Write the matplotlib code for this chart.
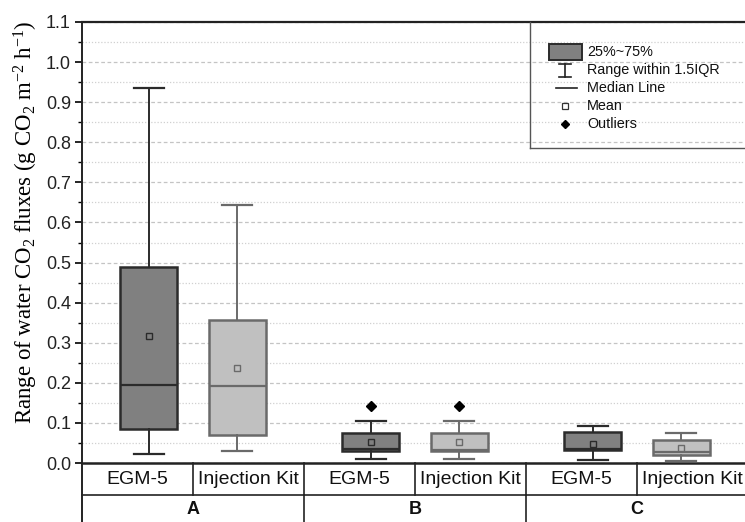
import matplotlib
matplotlib.use("Agg")
import matplotlib.pyplot as plt
from matplotlib.patches import Rectangle
from matplotlib.lines import Line2D
from matplotlib.ticker import MultipleLocator

groups = ["A", "B", "C"]
devices = ["EGM-5", "Injection Kit"]
# per box: A-EGM, A-Kit, B-EGM, B-Kit, C-EGM, C-Kit
whislo = [0.022, 0.030, 0.009, 0.009, 0.008, 0.006]
q1     = [0.085, 0.070, 0.030, 0.031, 0.032, 0.021]
med    = [0.195, 0.192, 0.035, 0.033, 0.035, 0.028]
q3     = [0.489, 0.357, 0.074, 0.074, 0.077, 0.057]
whishi = [0.935, 0.643, 0.105, 0.105, 0.093, 0.076]
means  = [0.317, 0.237, 0.052, 0.052, 0.047, 0.038]
fliers = [[], [], [0.143], [0.143], [], []]

W, H = 745, 522
fig = plt.figure(figsize=(W / 100, H / 100), dpi=100)
plt.rcParams['font.family'] = ['Liberation Sans', 'DejaVu Sans']
plt.rcParams['mathtext.fontset'] = 'custom'
plt.rcParams['mathtext.rm'] = 'Liberation Serif'
plt.rcParams['mathtext.it'] = 'Liberation Serif:italic'
plt.rcParams['mathtext.bf'] = 'Liberation Serif:bold'

def fx(px):
    return px / W

def fy(py):
    return 1 - py / H

ax_l, ax_r, ax_t, ax_b = 82, 748, 22, 463
ax = fig.add_axes([fx(ax_l), fy(ax_b), fx(ax_r - ax_l), (ax_b - ax_t) / H])
ax.set_xlim(0, 6)
ax.set_ylim(0, 1.1)

dark_face, dark_edge = "#808080", "#2b2b2b"
light_face, light_edge = "#c0c0c0", "#6a6a6a"

stats = []
for i in range(6):
    stats.append(dict(whislo=whislo[i], q1=q1[i], med=med[i], q3=q3[i],
                      whishi=whishi[i], mean=means[i], fliers=fliers[i]))
positions = []
for g in range(3):
    positions += [2 * g + 0.6, 2 * g + 1.4]

for i, st in enumerate(stats):
    dark = (i % 2 == 0)
    fc = dark_face if dark else light_face
    ec = dark_edge if dark else light_edge
    ax.bxp([st], positions=[positions[i]], widths=0.51, capwidths=0.27,
           patch_artist=True, showmeans=True, showfliers=True,
           boxprops=dict(facecolor=fc, edgecolor=ec, linewidth=1.8),
           medianprops=dict(color=ec, linewidth=1.6),
           whiskerprops=dict(color=ec, linewidth=1.4),
           capprops=dict(color=ec, linewidth=1.6),
           meanprops=dict(marker='s', markerfacecolor=fc,
                          markeredgecolor=ec, markersize=5, markeredgewidth=1.0),
           flierprops=dict(marker='D', markerfacecolor='black', markeredgecolor='black',
                           markersize=5),
           manage_ticks=False, zorder=3)

# grid
ax.yaxis.set_major_locator(MultipleLocator(0.1))
ax.yaxis.set_minor_locator(MultipleLocator(0.05))
ax.grid(axis='y', which='major', linestyle=(0, (3, 2)), color='#c4c4c4', linewidth=0.9, zorder=0)
ax.grid(axis='y', which='minor', linestyle=(0, (1, 1.5)), color='#d0d0d0', linewidth=0.9, zorder=0)
ax.set_axisbelow(True)
ax.set_yticks([round(0.1 * k, 1) for k in range(12)])
ax.set_yticklabels([f"{0.1 * k:.1f}" for k in range(12)], fontsize=13, color='#222222')
ax.tick_params(axis='y', which='major', direction='out', length=5, width=1.2, pad=3)
ax.tick_params(axis='y', which='minor', direction='out', length=3, width=1.0)
ax.set_xticks([])
ax.spines['right'].set_visible(False)
ax.spines['top'].set_linewidth(1.6)
ax.spines['left'].set_linewidth(1.4)
ax.spines['bottom'].set_linewidth(1.8)
for s in ['top', 'left', 'bottom']:
    ax.spines[s].set_color('#222222')

ax.set_ylabel("Range of water CO$_2$ fluxes (g CO$_2$ m$^{-2}$ h$^{-1}$)",
              family='Liberation Serif', fontsize=16.5)
ax.yaxis.set_label_coords((40 - ax_l) / (ax_r - ax_l), (ax_b - 222) / (ax_b - ax_t))

# category table below axes
def fline(x0, y0, x1, y1, lw=1.2, color='#222222'):
    fig.add_artist(Line2D([fx(x0), fx(x1)], [fy(y0), fy(y1)], color=color, lw=lw))

row1, row2 = 495, 522
fline(ax_l, ax_b, ax_l, row2, lw=1.4)
fline(ax_l, row1, W, row1, lw=1.2)
cell = (ax_r - ax_l) / 6
for k in range(1, 6):
    xk = ax_l + cell * k
    fline(xk, ax_b, xk, row1, lw=1.2)
for k in (2, 4):
    xk = ax_l + cell * k
    fline(xk, row1, xk, row2, lw=1.2)
for k in range(6):
    xc = ax_l + cell * (k + 0.5)
    fig.text(fx(xc), fy((ax_b + row1) / 2 + 1), devices[k % 2], ha='center', va='center',
             fontsize=14, color='#111111')
for g in range(3):
    xc = ax_l + cell * (2 * g + 1)
    fig.text(fx(xc), fy((row1 + row2) / 2 + 1), groups[g], ha='center', va='center',
             fontsize=13, fontweight='bold', color='#111111')

# legend (drawn manually)
fline(530, ax_t, 530, 148, lw=1.0, color='#555555')
fline(530, 148, W, 148, lw=1.0, color='#555555')
fig.add_artist(Rectangle((fx(549), fy(60)), fx(582 - 549), (60 - 44) / H,
                         facecolor=dark_face, edgecolor=dark_edge, lw=1.4))
fline(565, 64, 565, 77, lw=1.2)
fline(559, 64, 571, 64, lw=1.2)
fline(559, 77, 571, 77, lw=1.2)
fline(556, 88, 577, 88, lw=1.2)
fig.add_artist(Line2D([fx(565)], [fy(106)], marker='s', markersize=4,
                      markerfacecolor='white', markeredgecolor='#333333', markeredgewidth=0.9))
fig.add_artist(Line2D([fx(565)], [fy(124)], marker='D', markersize=4.5,
                      markerfacecolor='black', markeredgecolor='black'))
leg_labels = ["25%~75%", "Range within 1.5IQR", "Median Line", "Mean", "Outliers"]
leg_y = [52, 70, 88, 106, 124]
for lab, yy in zip(leg_labels, leg_y):
    fig.text(fx(587), fy(yy), lab, ha='left', va='center', fontsize=10.4, color='#111111')

fig.savefig("out.png", dpi=100)
